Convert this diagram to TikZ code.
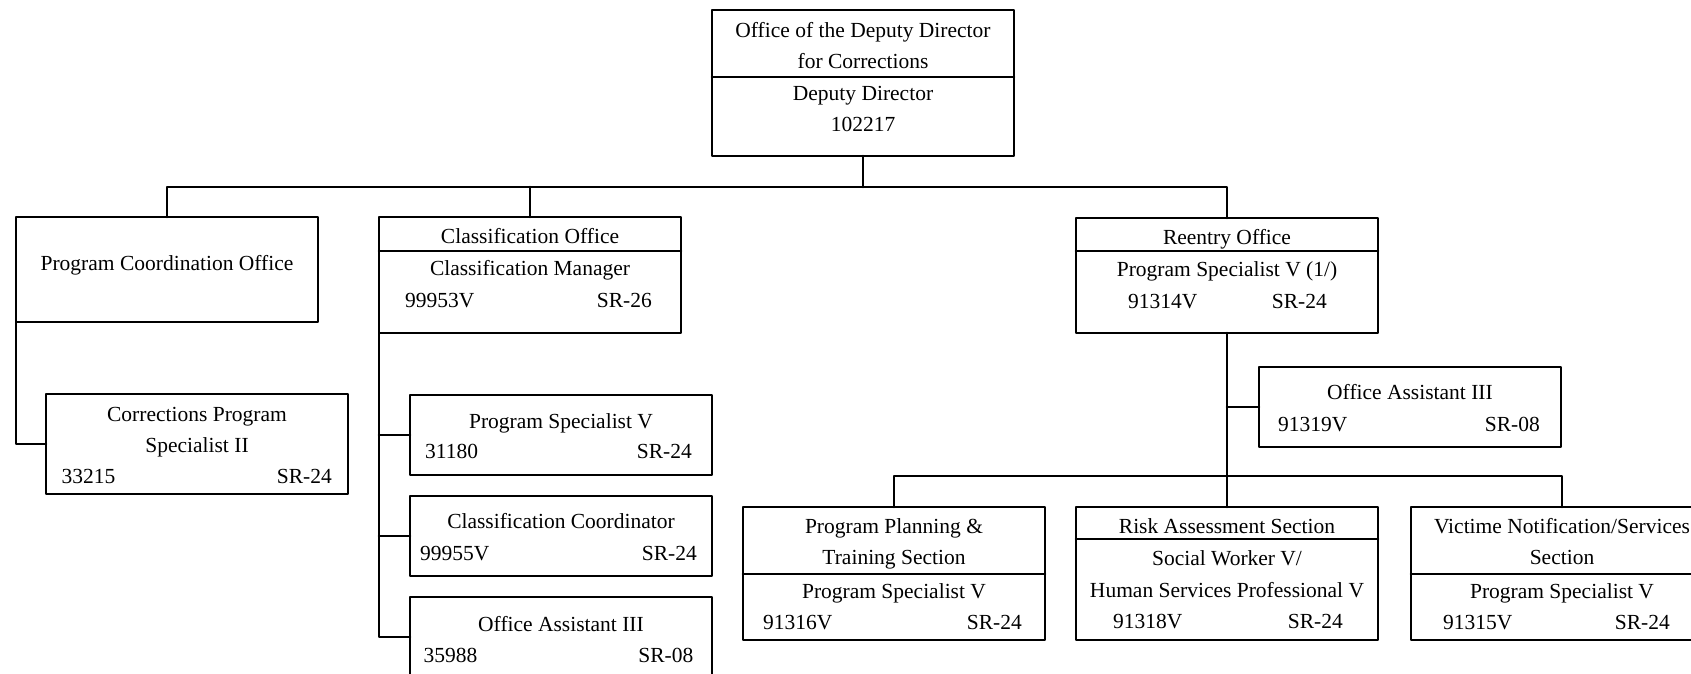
\documentclass[tikz,border=0pt]{standalone}
\usepackage{fontspec}
\setmainfont{Liberation Serif}

\begin{document}
\begin{tikzpicture}[line cap=round,line join=round,x=1pt,y=-1pt,
  box/.style={draw,line width=2.6pt,anchor=north west,minimum width=302pt,inner sep=0pt,outer sep=0pt},
  txt/.style={font=\fontsize{21.5}{31}\selectfont,inner sep=0pt,text height=14.2pt,text depth=0pt},
  link/.style={line width=2.6pt}]
\useasboundingbox (0,0) rectangle (1691,674);
\clip (0,0) rectangle (1691,674);
% boxes
\node[box,minimum height=146pt] (dd) at (712,10) {};
\node[box,minimum height=105pt] (pco) at (16,217) {};
\node[box,minimum height=116pt] (cls) at (379,217) {};
\node[box,minimum height=100pt] (cps) at (46,394) {};
\node[box,minimum height=80pt] (psv) at (410,395) {};
\node[box,minimum height=80pt] (ccd) at (410,496) {};
\node[box,minimum height=80pt] (oaa) at (410,597) {};
\node[box,minimum height=115pt] (reo) at (1076,218) {};
\node[box,minimum height=80pt] (oab) at (1259,367) {};
\node[box,minimum height=133pt] (ppt) at (743,507) {};
\node[box,minimum height=133pt] (ras) at (1076,507) {};
\node[box,minimum height=133pt] (vns) at (1411,507) {};
% dividers
\draw[link] (712,77) -- (1014,77);
\draw[link] (379,251) -- (681,251);
\draw[link] (1076,251) -- (1378,251);
\draw[link] (743,574) -- (1045,574);
\draw[link] (1076,539) -- (1378,539);
\draw[link] (1411,574) -- (1713,574);
% connectors
\coordinate (busa) at (863,187);
\coordinate (busb) at (1227,476);
\draw[link] (dd.south) -- (dd.south |- busa);
\draw[link] (pco.north) |- (reo.north |- busa) -- (reo.north);
\draw[link] (cls.north) -- (cls.north |- busa);
\draw[link] (pco.south west) |- (cps.west);
\draw[link] (cls.south west) |- (oaa.west);
\draw[link] (cls.south west |- psv.west) -- (psv.west);
\draw[link] (cls.south west |- ccd.west) -- (ccd.west);
\draw[link] (reo.south) -- (ras.north);
\draw[link] (reo.south |- oab.west) -- (oab.west);
\draw[link] (ppt.north) |- (vns.north |- busb) -- (vns.north);
% texts
\node[txt] (ddt1) at (863,30.5) {Office of the Deputy Director};
\node[txt] (ddt2) at (863,61.5) {for Corrections};
\node[txt] (ddt3) at (863,93.5) {Deputy Director};
\node[txt] (ddt4) at (863,124.5) {102217};
\node[txt] (pcot) at (167,263) {Program Coordination Office};
\node[txt] (clst1) at (530,236) {Classification Office};
\node[txt] (clst2) at (530,268.5) {Classification Manager};
\node[txt,anchor=west] (clsn) at (405,300) {99953V};
\node[txt,anchor=east] (clsg) at (652,300) {SR-26};
\node[txt] (cpst1) at (197,414) {Corrections Program};
\node[txt] (cpst2) at (197,445.5) {Specialist II};
\node[txt,anchor=west] (cpsn) at (61.5,476) {33215};
\node[txt,anchor=east] (cpsg) at (332,476) {SR-24};
\node[txt] (psvt) at (561,421) {Program Specialist V};
\node[txt,anchor=west] (psvn) at (425,451.5) {31180};
\node[txt,anchor=east] (psvg) at (692,451.5) {SR-24};
\node[txt] (ccdt) at (561,521.5) {Classification Coordinator};
\node[txt,anchor=west] (ccdn) at (420,553) {99955V};
\node[txt,anchor=east] (ccdg) at (697,553) {SR-24};
\node[txt] (oaat) at (561,624.5) {Office Assistant III};
\node[txt,anchor=west] (oaan) at (423.5,655) {35988};
\node[txt,anchor=east] (oaag) at (693.5,655) {SR-08};
\node[txt] (reot1) at (1227,237) {Reentry Office};
\node[txt] (reot2) at (1227,269.5) {Program Specialist V (1/)};
\node[txt,anchor=west] (reon) at (1128,301) {91314V};
\node[txt,anchor=east] (reog) at (1327,301) {SR-24};
\node[txt] (oabt) at (1410,392.5) {Office Assistant III};
\node[txt,anchor=west] (oabn) at (1278,424) {91319V};
\node[txt,anchor=east] (oabg) at (1540,424) {SR-08};
\node[txt] (pptt1) at (894,526) {Program Planning \&};
\node[txt] (pptt2) at (894,557.5) {Training Section};
\node[txt] (pptt3) at (894,591) {Program Specialist V};
\node[txt,anchor=west] (pptn) at (763,622) {91316V};
\node[txt,anchor=east] (pptg) at (1022,622) {SR-24};
\node[txt] (rast1) at (1227,526) {Risk Assessment Section};
\node[txt] (rast2) at (1227,558.5) {Social Worker V/};
\node[txt] (rast3) at (1227,590) {Human Services Professional V};
\node[txt,anchor=west] (rasn) at (1113,621) {91318V};
\node[txt,anchor=east] (rasg) at (1343,621) {SR-24};
\node[txt] (vnst1) at (1562,526) {Victime Notification/Services};
\node[txt] (vnst2) at (1562,557.5) {Section};
\node[txt] (vnst3) at (1562,591) {Program Specialist V};
\node[txt,anchor=west] (vnsn) at (1443,622) {91315V};
\node[txt,anchor=east] (vnsg) at (1670,622) {SR-24};
\end{tikzpicture}
\end{document}
